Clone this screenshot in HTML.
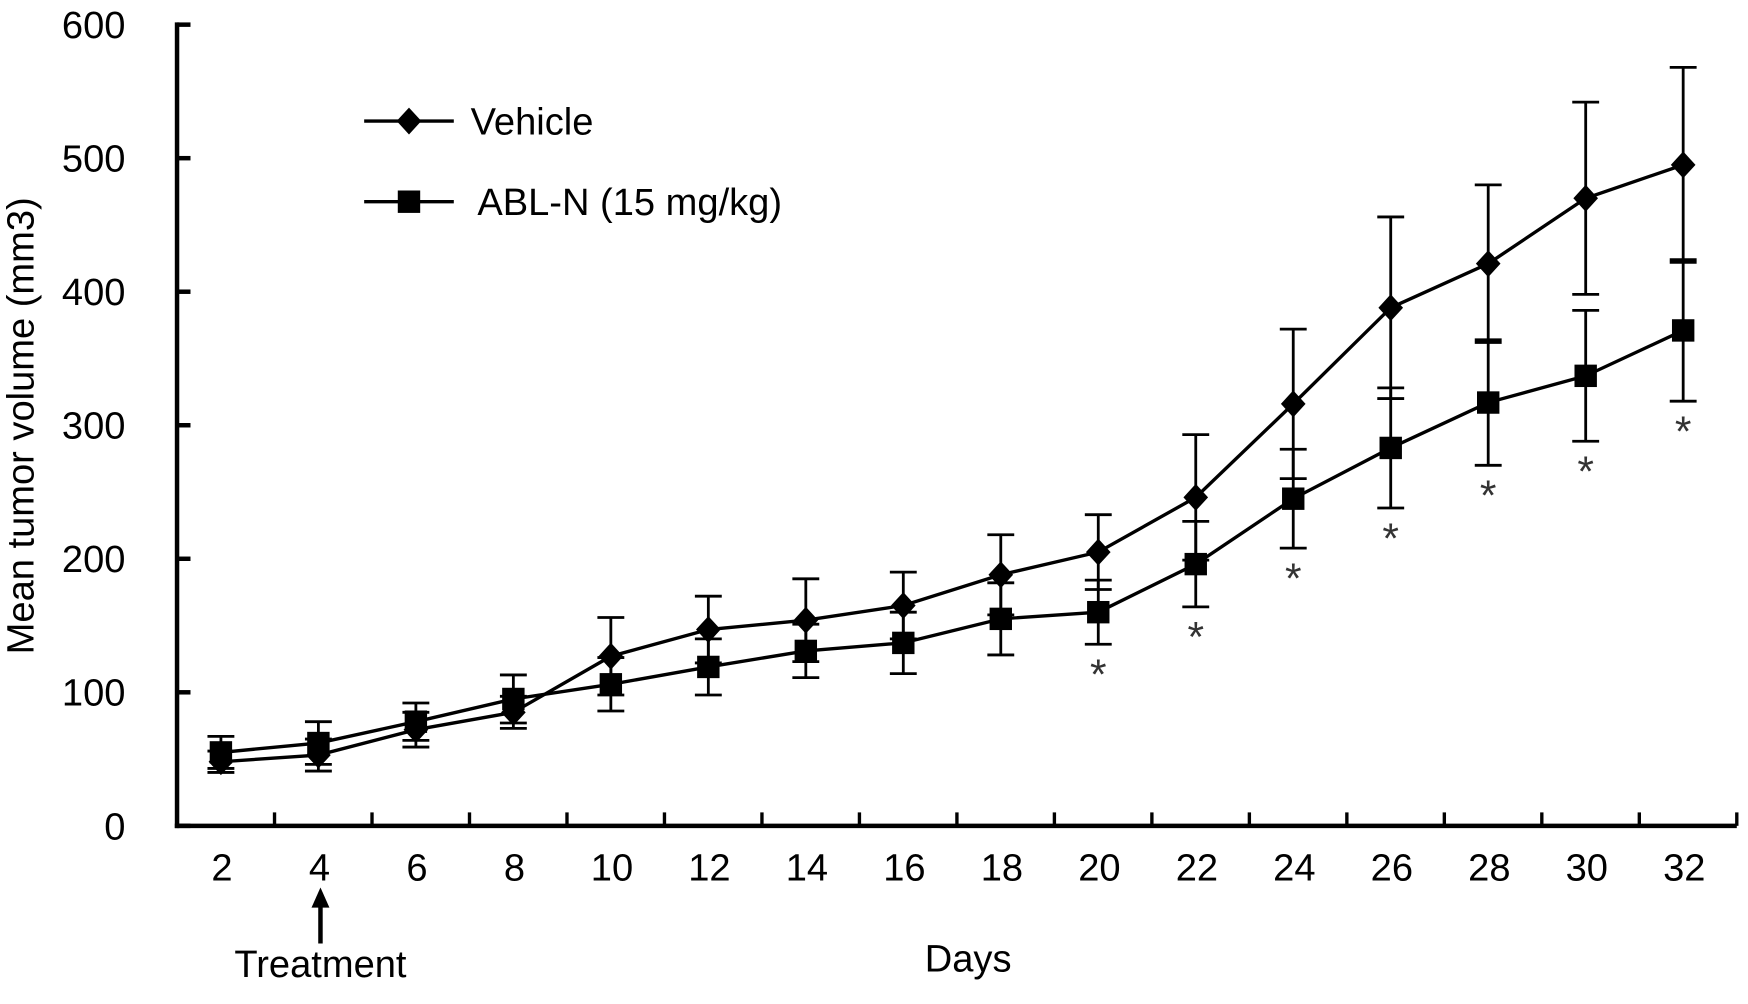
<!DOCTYPE html>
<html><head><meta charset="utf-8"><style>
html,body{margin:0;padding:0;background:#fff;}
svg{display:block;font-family:"Liberation Sans",Arial,sans-serif;}
</style></head><body>
<svg id="chart" width="1748" height="1004" viewBox="0 0 1560 896" preserveAspectRatio="none" xmlns="http://www.w3.org/2000/svg">
<g id="axes"></g>
<g id="marks"></g>
<g>
  <line x1="325" y1="108" x2="405" y2="108" stroke="#000" stroke-width="3"/>
  <path d="M365 96 L376 108 L365 120 L354 108 Z" fill="#000"/>
  <text x="420" y="120" font-size="34">Vehicle</text>
  <line x1="325" y1="180" x2="405" y2="180" stroke="#000" stroke-width="3"/>
  <rect x="355" y="170" width="20" height="20" fill="#000"/>
  <text x="426" y="192" font-size="34">ABL-N (15 mg/kg)</text>
</g>
<text x="30" y="380" font-size="34" text-anchor="middle" transform="rotate(-90 30 380)">Mean tumor volume (mm3)</text>
<text x="864" y="867" font-size="34" text-anchor="middle">Days</text>
<g>
  <line x1="286" y1="808" x2="286" y2="842" stroke="#000" stroke-width="4"/>
  <path d="M278 810 L286 792 L294 810 Z" fill="#000"/>
  <text x="286" y="872" font-size="34" text-anchor="middle">Treatment</text>
</g>
</svg>
<script>
const days = ["2","4","6","8","10","12","14","16","18","20","22","24","26","28","30","32"];
const vehicleMean = [48,53,72,85,127,147,154,165,188,205,246,316,388,421,470,495];
const vehicleErr = [8,12,13,12,29,25,31,25,30,28,47,56,68,59,72,73];
const ablMean = [55,62,78,95,106,119,131,137,155,160,196,245,283,317,337,371];
const ablErr = [12,16,14,18,20,21,20,23,27,24,32,37,45,47,49,53];
const significant = [false,false,false,false,false,false,false,false,false,true,true,true,true,true,true,true];
const yTicks = [0,100,200,300,400,500,600];

const NS = "http://www.w3.org/2000/svg";
const x0 = 158, x1 = 1550, yBase = 737, yTop = 22;
const band = (x1 - x0) / days.length;
const xs = i => x0 + band * (i + 0.45);
const ys = v => yBase - (v / 600) * (yBase - yTop);
function mk(tag, attrs, parent) {
  const e = document.createElementNS(NS, tag);
  for (const k in attrs) e.setAttribute(k, attrs[k]);
  parent.appendChild(e);
  return e;
}
const axes = document.getElementById("axes");
const marks = document.getElementById("marks");
let el;
el = mk("line", {x1: x0, y1: yTop - 2, x2: x0, y2: yBase + 2, stroke: "#000", "stroke-width": 4}, axes);


el = mk("line", {x1: x0 - 2, y1: yBase, x2: x1, y2: yBase, stroke: "#000", "stroke-width": 4}, axes);


yTicks.forEach(t => {
  const y = ys(t);
  el = mk("line", {x1: x0, y1: y, x2: x0 + 12, y2: y, stroke: "#000", "stroke-width": 4}, axes);
  
  
  el = mk("text", {x: 112, y: y + 12, "font-size": 34, "text-anchor": "end"}, axes);
  el.textContent = t;
  
  
});
for (let i = 1; i <= days.length; i++) {
  const x = x0 + band * i;
  el = mk("line", {x1: x, y1: yBase, x2: x, y2: yBase - 12, stroke: "#000", "stroke-width": 3}, axes);
  
  
}
days.forEach((d, i) => {
  el = mk("text", {x: xs(i) + 1, y: 786, "font-size": 34, "text-anchor": "middle"}, axes);
  el.textContent = d;
  
  
});
function series(mean, err, name, shape) {
  const g = mk("g", {}, marks);
  
  
  mean.forEach((v, i) => {
    const x = xs(i), yh = ys(v + err[i]), yl = ys(v - err[i]);
    el = mk("path", {d: `M${x} ${yh} V${yl} M${x-12} ${yh} H${x+12} M${x-12} ${yl} H${x+12}`, stroke: "#000", "stroke-width": 2.5, fill: "none"}, g);
    
    
  });
  el = mk("polyline", {points: mean.map((v, i) => xs(i) + "," + ys(v)).join(" "), fill: "none", stroke: "#000", "stroke-width": 3}, g);
  
  
  mean.forEach((v, i) => {
    const x = xs(i), y = ys(v);
    if (shape === "diamond") el = mk("path", {d: `M${x} ${y-12} L${x+11} ${y} L${x} ${y+12} L${x-11} ${y} Z`, fill: "#000"}, g);
    else el = mk("rect", {x: x - 10, y: y - 10, width: 20, height: 20, fill: "#000"}, g);
    
    
  });
}
series(vehicleMean, vehicleErr, "vehicle", "diamond");
series(ablMean, ablErr, "abl-n", "square");
significant.forEach((s, i) => {
  if (!s) return;
  el = mk("text", {x: xs(i), y: ys(ablMean[i] - ablErr[i]) + 40, "font-size": 38, "text-anchor": "middle", fill: "#333"}, marks);
  el.textContent = "*";
  
  
});
</script>
</body></html>
